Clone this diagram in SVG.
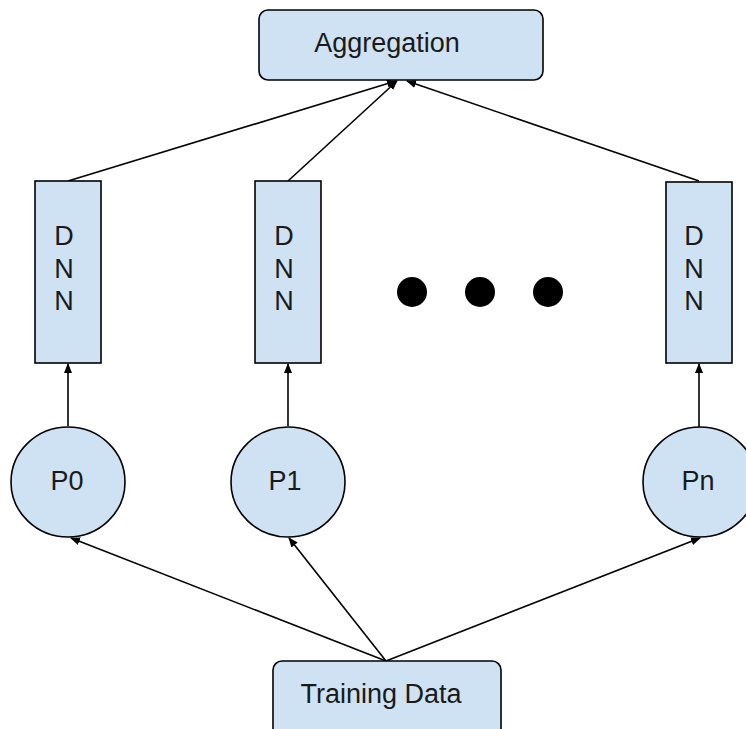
<svg xmlns="http://www.w3.org/2000/svg" width="746" height="729" viewBox="0 0 746 729">
  <defs>
    <marker id="arr" viewBox="0 0 10 10" refX="9" refY="5" markerWidth="10" markerHeight="10" markerUnits="userSpaceOnUse" orient="auto">
      <path d="M0,1 L10,5 L0,9 Z" fill="#000"/>
    </marker>
  </defs>
  <style>
    .box { fill: #cfe2f3; stroke: #000; stroke-width: 1.6; }
    .t { font-family: "Liberation Sans", Arial, sans-serif; font-size: 27px; fill: #1a1a1a; text-anchor: middle; }
    .c { stroke: #000; stroke-width: 1.6; fill: none; marker-end: url(#arr); }
  </style>
  <rect width="746" height="729" fill="#fff"/>

  <g id="connectors">
    <line class="c" x1="68" y1="181" x2="396" y2="81"/>
    <line class="c" x1="288" y1="181" x2="397" y2="81"/>
    <line class="c" x1="699" y1="181" x2="407" y2="81"/>
    <line class="c" x1="68" y1="426" x2="68" y2="364"/>
    <line class="c" x1="288" y1="426" x2="288" y2="364"/>
    <line class="c" x1="699" y1="427" x2="699" y2="364"/>
    <line class="c" x1="386" y1="661" x2="71" y2="538"/>
    <line class="c" x1="386" y1="661" x2="289" y2="538"/>
    <line class="c" x1="386" y1="661" x2="700" y2="538"/>
  </g>

  <g id="aggregation">
    <rect class="box" x="259" y="10" width="284" height="70" rx="9"/>
    <text class="t" x="387" y="52">Aggregation</text>
  </g>

  <g id="dnn0">
    <rect class="box" x="35" y="181" width="66" height="182"/>
    <text class="t" x="64" y="245">D</text>
    <text class="t" x="64" y="278">N</text>
    <text class="t" x="64" y="310">N</text>
  </g>
  <g id="dnn1">
    <rect class="box" x="255" y="181" width="66" height="182"/>
    <text class="t" x="284" y="245">D</text>
    <text class="t" x="284" y="278">N</text>
    <text class="t" x="284" y="310">N</text>
  </g>
  <g id="dnnn">
    <rect class="box" x="666" y="182" width="66" height="181"/>
    <text class="t" x="694" y="245">D</text>
    <text class="t" x="694" y="278">N</text>
    <text class="t" x="694" y="310">N</text>
  </g>

  <g id="ellipsis">
    <circle cx="412" cy="292" r="15" fill="#000"/>
    <circle cx="480" cy="292" r="15" fill="#000"/>
    <circle cx="548" cy="292" r="15" fill="#000"/>
  </g>

  <g id="p0">
    <ellipse class="box" cx="68" cy="482" rx="57" ry="55"/>
    <text class="t" x="67" y="490">P0</text>
  </g>
  <g id="p1">
    <ellipse class="box" cx="288" cy="482" rx="57" ry="55"/>
    <text class="t" x="285" y="490">P1</text>
  </g>
  <g id="pn">
    <ellipse class="box" cx="700" cy="482" rx="57" ry="55"/>
    <text class="t" x="698" y="490">Pn</text>
  </g>

  <g id="training-data">
    <rect class="box" x="273" y="661" width="228" height="90" rx="9"/>
    <text class="t" x="381" y="703">Training Data</text>
  </g>
</svg>
